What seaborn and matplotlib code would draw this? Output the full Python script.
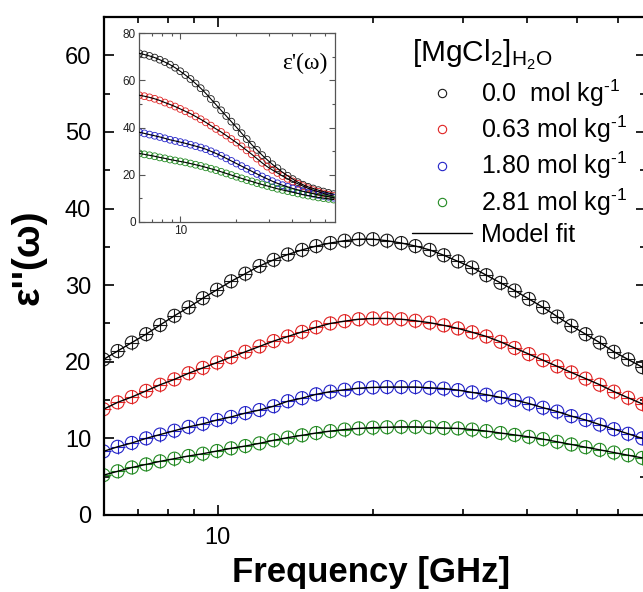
import numpy as np
import pandas as pd
import matplotlib
matplotlib.use("Agg")
import matplotlib.pyplot as plt
from matplotlib.lines import Line2D
from matplotlib.ticker import FixedLocator, NullFormatter, MultipleLocator, LogLocator
import seaborn as sns

# ---- data -------------------------------------------------------------
freq_ghz = [6.00, 6.39, 6.81, 7.26, 7.73, 8.24, 8.78, 9.36, 9.97, 10.62,
            11.32, 12.06, 12.85, 13.69, 14.59, 15.54, 16.56, 17.65, 18.80, 20.03,
            21.34, 22.74, 24.23, 25.82, 27.51, 29.31, 31.23, 33.28, 35.46, 37.78,
            40.25, 42.89, 45.70, 48.69, 51.88, 55.28, 58.90, 62.76, 66.87]

conc_labels = [r"0.0  mol kg$^{\text{-1}}$", r"0.63 mol kg$^{\text{-1}}$",
               r"1.80 mol kg$^{\text{-1}}$", r"2.81 mol kg$^{\text{-1}}$"]
conc_colors = ["#1a1a1a", "#e02424", "#2323c8", "#238a23"]

# dielectric loss eps''
loss_00 = [20.3, 21.4, 22.5, 23.6, 24.8, 26.0, 27.1, 28.3, 29.4, 30.5,
           31.5, 32.5, 33.3, 34.0, 34.6, 35.1, 35.5, 35.8, 36.0, 36.0,
           35.8, 35.5, 35.1, 34.6, 33.9, 33.1, 32.3, 31.3, 30.3, 29.3,
           28.2, 27.1, 25.9, 24.7, 23.6, 22.5, 21.3, 20.3, 19.3]
loss_063 = [13.8, 14.7, 15.4, 16.2, 17.0, 17.7, 18.5, 19.2, 19.9, 20.6,
            21.3, 22.0, 22.7, 23.3, 23.9, 24.5, 25.0, 25.3, 25.55, 25.65,
            25.65, 25.55, 25.35, 25.1, 24.75, 24.35, 23.85, 23.3, 22.6, 21.8,
            21.0, 20.2, 19.4, 18.6, 17.8, 17.0, 16.1, 15.3, 14.5]
loss_180 = [8.3, 8.9, 9.4, 10.0, 10.5, 11.0, 11.5, 11.9, 12.4, 12.8,
            13.3, 13.7, 14.2, 14.85, 15.25, 15.75, 16.1, 16.35, 16.55, 16.65,
            16.7, 16.7, 16.7, 16.6, 16.5, 16.3, 16.0, 15.7, 15.35, 15.0,
            14.55, 14.0, 13.5, 12.9, 12.4, 11.8, 11.2, 10.6, 10.0]
loss_281 = [5.2, 5.7, 6.2, 6.6, 7.0, 7.35, 7.7, 8.0, 8.35, 8.7,
            9.0, 9.35, 9.75, 10.1, 10.4, 10.7, 10.95, 11.15, 11.3, 11.4,
            11.45, 11.5, 11.5, 11.45, 11.35, 11.3, 11.15, 10.95, 10.7, 10.45,
            10.2, 9.9, 9.55, 9.2, 8.85, 8.5, 8.15, 7.8, 7.45]

# dielectric permittivity eps'
perm_00 = [71.5, 71.0, 70.4, 69.7, 68.8, 67.8, 66.7, 65.4, 63.9, 62.3,
           60.6, 58.7, 56.7, 54.5, 52.1, 49.7, 47.3, 44.9, 42.5, 40.1,
           37.6, 35.1, 32.7, 30.5, 28.3, 26.3, 24.4, 22.7, 21.0, 19.5,
           18.1, 16.8, 15.7, 14.8, 14.1, 13.4, 12.8, 12.2, 11.7]
perm_063 = [53.7, 53.3, 52.8, 52.2, 51.5, 50.6, 49.8, 48.9, 47.9, 46.9,
            45.9, 44.7, 43.5, 42.2, 40.8, 39.4, 38.1, 36.6, 35.1, 33.6,
            32.0, 30.3, 28.6, 26.8, 25.0, 23.4, 22.0, 20.7, 19.4, 18.2,
            17.1, 16.1, 15.1, 14.2, 13.4, 12.7, 12.0, 11.4, 10.9]
perm_180 = [38.0, 37.5, 37.0, 36.5, 36.0, 35.4, 34.8, 34.3, 33.8, 33.3,
            32.7, 32.1, 31.5, 30.8, 29.9, 29.0, 28.0, 26.9, 25.8, 24.7,
            23.6, 22.5, 21.4, 20.3, 19.2, 18.2, 17.2, 16.3, 15.5, 14.8,
            14.1, 13.5, 12.9, 12.4, 11.9, 11.4, 11.0, 10.6, 10.2]
perm_281 = [29.0, 28.6, 28.2, 27.8, 27.3, 26.9, 26.4, 26.0, 25.6, 25.2,
            24.7, 24.2, 23.7, 23.1, 22.5, 21.9, 21.2, 20.5, 19.8, 19.1,
            18.4, 17.7, 17.1, 16.4, 15.8, 15.2, 14.6, 14.0, 13.5, 13.0,
            12.5, 12.0, 11.5, 11.1, 10.7, 10.3, 10.0, 9.7, 9.4]

loss_sets = [loss_00, loss_063, loss_180, loss_281]
perm_sets = [perm_00, perm_063, perm_180, perm_281]

df = pd.concat(
    [pd.DataFrame({"freq": freq_ghz, "loss": l, "perm": p, "conc": lab})
     for l, p, lab in zip(loss_sets, perm_sets, conc_labels)],
    ignore_index=True)

# ---- style ------------------------------------------------------------
sns.set_theme(style="ticks")
plt.rcParams["font.family"] = ["Liberation Sans", "DejaVu Sans"]
plt.rcParams["mathtext.fontset"] = "custom"
plt.rcParams["mathtext.rm"] = "Liberation Sans"
plt.rcParams["mathtext.it"] = "Liberation Sans:italic"
plt.rcParams["mathtext.bf"] = "Liberation Sans:bold"
plt.rcParams["text.color"] = "black"
plt.rcParams["axes.labelcolor"] = "black"
plt.rcParams["xtick.color"] = "black"
plt.rcParams["ytick.color"] = "black"

fig = plt.figure(figsize=(6.43, 5.92), dpi=100)
ax = fig.add_axes([0.161, 0.1301, 0.8437, 0.8412])
ax.set_xscale("log")

# ---- main panel: eps'' -----------------------------------------------
for lab, col in zip(conc_labels, conc_colors):
    sub = df[df["conc"] == lab]
    sns.scatterplot(data=sub, x="freq", y="loss", marker="o", s=88,
                    color=col, facecolor="none", edgecolor=col,
                    linewidth=0.8, ax=ax, legend=False, zorder=2)
    sns.scatterplot(data=sub, x="freq", y="loss", marker="+", s=88,
                    color=col, linewidth=0.8, ax=ax, legend=False, zorder=2)
sns.lineplot(data=df, x="freq", y="loss", units="conc", estimator=None,
             color="black", linewidth=1.0, ax=ax, legend=False, zorder=3)

ax.set_xlim(6, 68)
ax.set_ylim(0, 65)
ax.xaxis.set_major_locator(FixedLocator([10]))
ax.set_xticklabels(["10"])
ax.xaxis.set_minor_locator(LogLocator(base=10, subs=np.arange(2, 10)))
ax.xaxis.set_minor_formatter(NullFormatter())
ax.yaxis.set_major_locator(MultipleLocator(10))
ax.yaxis.set_minor_locator(MultipleLocator(5))
for sp in ax.spines.values():
    sp.set_visible(True)
    sp.set_linewidth(1.6)
    sp.set_color("black")
ax.tick_params(which="both", direction="in", top=True, right=True,
               color="black", width=1.2)
ax.tick_params(which="major", length=7, labelsize=17, pad=9,
               labelcolor="black")
ax.tick_params(which="minor", length=4.5)

ax.set_xlabel("Frequency [GHz]", fontsize=25, fontweight="bold")
ax.xaxis.set_label_coords(0.493, -0.1145)
ax.xaxis.label.set_va("center")
ax.set_ylabel("")
fig.text(29 / 643, 1 - 257 / 592, "ε''(ω)", rotation=90, ha="center",
         va="center", fontsize=28, fontweight="bold")

# legend
handles = [Line2D([], [], linestyle="none", marker="o", markersize=6,
                  markerfacecolor="none", markeredgecolor=c,
                  markeredgewidth=0.8) for c in conc_colors]
handles.append(Line2D([], [], color="black", linewidth=1.0))
labels = conc_labels + ["Model fit"]
leg = fig.legend(handles, labels,
                 title=r"[MgCl$_2$]$_{\mathrm{H_2O}}$",
                 loc="upper left", bbox_to_anchor=(412 / 643, 1 - 38 / 592),
                 frameon=False, fontsize=18, title_fontsize=21.5,
                 alignment="left", handlelength=2.4, handletextpad=0.35,
                 labelspacing=0.2, borderpad=0, borderaxespad=0)

# ---- inset: eps' --------------------------------------------------------
ins = fig.add_axes([0.2166, 0.6255, 0.3044, 0.3182])
ins.set_facecolor("white")
ins.set_xscale("log")
for lab, col in zip(conc_labels, conc_colors):
    sub = df[df["conc"] == lab]
    sns.scatterplot(data=sub, x="freq", y="perm", marker="o", s=24,
                    color=col, facecolor="none", edgecolor=col,
                    linewidth=0.6, ax=ins, legend=False, zorder=2)
sns.lineplot(data=df, x="freq", y="perm", units="conc", estimator=None,
             color="black", linewidth=0.8, ax=ins, legend=False, zorder=3)
ins.set_xlim(6, 68)
ins.set_ylim(0, 80)
ins.xaxis.set_major_locator(FixedLocator([10]))
ins.set_xticklabels(["10"])
ins.xaxis.set_minor_locator(LogLocator(base=10, subs=np.arange(2, 10)))
ins.xaxis.set_minor_formatter(NullFormatter())
ins.yaxis.set_major_locator(MultipleLocator(20))
ins.yaxis.set_minor_locator(MultipleLocator(10))
for sp in ins.spines.values():
    sp.set_visible(True)
    sp.set_linewidth(0.9)
    sp.set_color("#555555")
ins.tick_params(which="both", direction="in", top=True, right=True,
                color="#555555", width=0.8)
ins.tick_params(which="major", length=4, labelsize=8.5, pad=2.5,
                labelcolor="#222222")
ins.tick_params(which="minor", length=2.5)
ins.set_xlabel("")
ins.set_ylabel("")
ins.text(0.96, 0.842, "ε'(ω)", transform=ins.transAxes, ha="right",
         va="center", fontsize=17, family=["Liberation Serif", "DejaVu Serif"])

fig.savefig("out.png", dpi=100)
